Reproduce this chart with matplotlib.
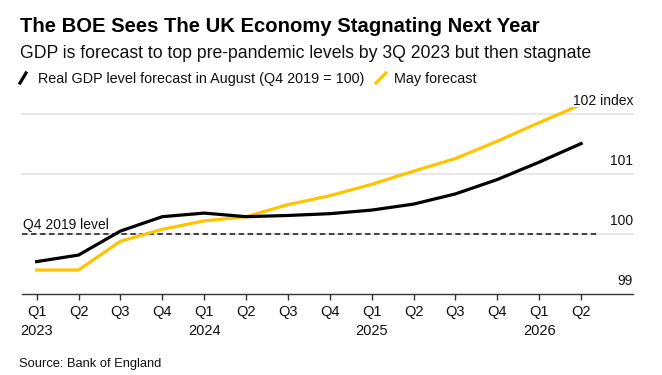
import matplotlib
matplotlib.use("Agg")
import matplotlib.pyplot as plt
from matplotlib.lines import Line2D
import matplotlib.transforms as mtransforms

plt.rcParams['font.family'] = ['Liberation Sans', 'DejaVu Sans']

# data (quarter index, GDP level Q4 2019 = 100)
quarters = ['Q1', 'Q2', 'Q3', 'Q4', 'Q1', 'Q2', 'Q3', 'Q4', 'Q1', 'Q2', 'Q3', 'Q4', 'Q1', 'Q2']
years = ['2023', '', '', '', '2024', '', '', '', '2025', '', '', '', '2026', '']
august = [99.54, 99.65, 100.05, 100.29, 100.35, 100.29, 100.31, 100.34,
          100.40, 100.50, 100.67, 100.91, 101.20, 101.51]
may = [99.40, 99.40, 99.88, 100.08, 100.22, 100.29, 100.49, 100.64,
       100.83, 101.05, 101.26, 101.55, 101.86, 102.16]
y_levels = [99, 100, 101, 102]
y_labels = ['99', '100', '101', '102 index']

BLACK = '#000000'
YELLOW = '#FFC400'
GRID = '#e2e2e2'

W, H = 662, 375
fig = plt.figure(figsize=(W / 100, H / 100), dpi=100)
ax = fig.add_axes([22 / W, 1 - 294 / H, (633 - 22) / W, (294 - 107) / H])

x = list(range(len(quarters)))
ax.set_xlim(-0.35, 14.24)
ax.set_ylim(99, 102.12)

# gridlines
for lvl in y_levels[1:]:
    ax.axhline(lvl, color=GRID, lw=1.1, zorder=1, clip_on=False)

# Q4 2019 reference
ax.plot([-0.35, 13.4], [100, 100], color='#333333', lw=1.3,
        linestyle=(0, (3, 2)), zorder=2)
ax.text(-0.33, 100.08, 'Q4 2019 level', fontsize=10, color='#111111',
        ha='left', va='baseline', zorder=3)

ax.plot(x, may, color=YELLOW, lw=2.3, solid_joinstyle='round', zorder=4)
ax.plot(x, august, color=BLACK, lw=2.3, solid_joinstyle='round', zorder=5)

# right-hand value labels sitting above the gridlines
trans = mtransforms.blended_transform_factory(ax.transAxes, ax.transData)
for lvl, lab in zip(y_levels, y_labels):
    ax.text(1.0, lvl + 0.15, lab, transform=trans, ha='right', va='baseline',
            fontsize=10, color='#111111', clip_on=False)

ax.set_yticks([])
for s in ['left', 'right', 'top']:
    ax.spines[s].set_visible(False)
ax.spines['bottom'].set_color('#333333')
ax.spines['bottom'].set_linewidth(1.0)

ax.set_xticks(x)
ax.set_xticklabels([f"{q}\n{y}" for q, y in zip(quarters, years)],
                   fontsize=10.5, linespacing=1.4, color='#111111')
ax.tick_params(axis='x', length=4, width=1, color='#333333', pad=4)

# titles
fig.text(20 / W, 1 - 32 / H, 'The BOE Sees The UK Economy Stagnating Next Year',
         fontsize=14.6, fontweight='bold', ha='left', va='baseline')
fig.text(20 / W, 1 - 58.5 / H,
         'GDP is forecast to top pre-pandemic levels by 3Q 2023 but then stagnate',
         fontsize=12.7, ha='left', va='baseline', color='#111111')

# legend
fig.add_artist(Line2D([20 / W, 26 / W], [1 - 83 / H, 1 - 73 / H], color=BLACK,
                      lw=2.3, transform=fig.transFigure))
fig.text(38 / W, 1 - 82.5 / H, 'Real GDP level forecast in August (Q4 2019 = 100)',
         fontsize=10.35, ha='left', va='baseline', color='#111111')
fig.add_artist(Line2D([376 / W, 386 / W], [1 - 83 / H, 1 - 73 / H], color=YELLOW,
                      lw=2.3, transform=fig.transFigure))
fig.text(394 / W, 1 - 82.5 / H, 'May forecast',
         fontsize=10.35, ha='left', va='baseline', color='#111111')

fig.text(19 / W, 1 - 366.5 / H, 'Source: Bank of England',
         fontsize=9.3, ha='left', va='baseline', color='#111111')

fig.savefig('out.png', dpi=100)
